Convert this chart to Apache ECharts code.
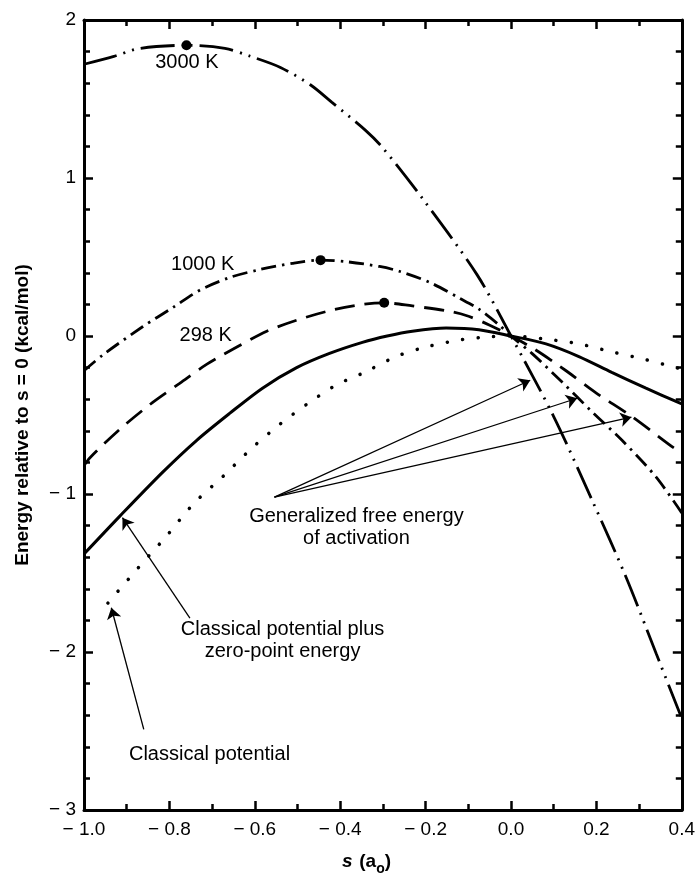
<!DOCTYPE html>
<html>
<head>
<meta charset="utf-8">
<script src="https://cdn.jsdelivr.net/npm/echarts@6/dist/echarts.min.js"></script>
<style>
html,body{margin:0;padding:0;background:#fff;}
#chart{width:698px;height:879px;}
</style>
</head>
<body>
<div id="chart"></div>
<script>
// ---- axis ticks ----
const xTickLabels = ['\u2212 1.0','\u2212 0.8','\u2212 0.6','\u2212 0.4','\u2212 0.2','0.0','0.2','0.4'];
const yTickLabels = ['\u2212 3','\u2212 2','\u2212 1','0','1','2'];

// ---- curves (s in a0, energy in kcal/mol) ----
const s3000 = [-1.0,-0.93,-0.87,-0.76,-0.67,-0.61,-0.54,-0.47,-0.42,-0.34,-0.30,-0.21,-0.08,0.0,0.10,0.19,0.27,0.34,0.40];
const e3000 = [1.72,1.77,1.82,1.84,1.82,1.77,1.70,1.59,1.48,1.30,1.19,0.88,0.39,0.0,-0.51,-1.04,-1.53,-2.01,-2.42];

const s1000 = [-1.0,-0.956,-0.862,-0.792,-0.729,-0.659,-0.589,-0.512,-0.446,-0.385,-0.308,-0.262,-0.191,-0.121,-0.075,-0.028,0.0,0.049,0.119,0.190,0.260,0.339,0.40];
const e1000 = [-0.22,-0.12,0.06,0.18,0.29,0.37,0.42,0.46,0.48,0.47,0.44,0.41,0.34,0.24,0.17,0.07,0.0,-0.11,-0.29,-0.48,-0.66,-0.89,-1.12];

const s298 = [-1.0,-0.986,-0.916,-0.839,-0.776,-0.713,-0.642,-0.572,-0.502,-0.425,-0.348,-0.297,-0.231,-0.152,-0.105,-0.051,0.0,0.059,0.129,0.199,0.283,0.377,0.40];
const e298 = [-0.82,-0.77,-0.59,-0.42,-0.30,-0.18,-0.07,0.03,0.10,0.16,0.20,0.21,0.19,0.16,0.13,0.07,0.0,-0.09,-0.22,-0.36,-0.51,-0.70,-0.74];

const sZpe = [-1.0,-0.916,-0.815,-0.736,-0.659,-0.582,-0.502,-0.425,-0.348,-0.290,-0.231,-0.152,-0.075,0.0,0.082,0.159,0.236,0.316,0.40];
const eZpe = [-1.38,-1.14,-0.86,-0.66,-0.49,-0.33,-0.20,-0.11,-0.04,0.0,0.03,0.05,0.04,0.0,-0.05,-0.13,-0.23,-0.33,-0.43];

const sClassical = [-0.944,-0.874,-0.808,-0.743,-0.675,-0.607,-0.542,-0.477,-0.409,-0.343,-0.269,-0.200,-0.120,-0.050,0.0,0.082,0.159,0.236,0.316,0.40];
const eClassical = [-1.69,-1.47,-1.27,-1.06,-0.89,-0.71,-0.56,-0.43,-0.31,-0.23,-0.13,-0.07,-0.025,-0.005,0.0,-0.02,-0.05,-0.10,-0.15,-0.21];

// ---- maxima of the free-energy curves ----
const peakS = [-0.76,-0.446,-0.297];
const peakE = [1.84,0.48,0.21];

// ---- annotation texts ----
const noteText = ['3000 K','1000 K','298 K','Generalized free energy\nof activation','Classical potential plus\nzero-point energy','Classical potential'];
const noteS = [-0.759,-0.722,-0.715,-0.362,-0.535,-0.706];
const noteE = [1.734,0.45,0.006,-1.21,-1.93,-2.65];

// ---- arrows: tail -> head ----
const arrowTail = [[-0.554,-1.02],[-0.554,-1.02],[-0.554,-1.02],[-0.752,-1.785],[-0.860,-2.49]];
const arrowHead = [[0.045,-0.280],[0.155,-0.394],[0.282,-0.514],[-0.910,-1.150],[-0.936,-1.720]];

const zip = (a,b) => a.map((v,i)=>[v,b[i]]);
const FONT = '"Liberation Sans", Arial, Helvetica, sans-serif';

function curve(name, s, e, type, width, cap){
  return {
    name, type:'line', data: zip(s,e), showSymbol:false, symbol:'none', smooth:0.3,
    xAxisIndex:0, yAxisIndex:0, clip:true, silent:true,
    lineStyle:{color:'#000', width:width, type:type, cap:cap||'butt'}
  };
}

const tickStyle = {color:'#000', width:2.5};
function xAx(pos, showLabel){
  return {
    type:'value', position:pos, min:-1, max:0.4, interval:0.2,
    axisLine:{show:true, onZero:false, lineStyle:{color:'#000', width:3}},
    axisTick:{show:true, inside:true, length:9, lineStyle:tickStyle},
    minorTick:{show:true, splitNumber:2, length:6, lineStyle:tickStyle},
    splitLine:{show:false}, minorSplitLine:{show:false},
    axisLabel:{show:showLabel, margin:10, color:'#000', fontSize:19, fontFamily:FONT,
      formatter:(v)=>xTickLabels[Math.round((v+1)/0.2)]}
  };
}
function yAx(pos, showLabel){
  return {
    type:'value', position:pos, min:-3, max:2, interval:1,
    axisLine:{show:true, onZero:false, lineStyle:{color:'#000', width:3}},
    axisTick:{show:true, inside:true, length:9, lineStyle:tickStyle},
    minorTick:{show:true, splitNumber:5, length:6, lineStyle:tickStyle},
    splitLine:{show:false}, minorSplitLine:{show:false},
    axisLabel:{show:showLabel, margin:8, color:'#000', fontSize:19, fontFamily:FONT,
      formatter:(v)=>yTickLabels[Math.round(v+3)]},
    name: showLabel ? 'Energy relative to s = 0 (kcal/mol)' : '',
    nameLocation:'middle', nameGap:52,
    nameTextStyle:{color:'#000', fontSize:19, fontWeight:'bold', fontFamily:FONT}
  };
}

const option = {
  animation:false,
  backgroundColor:'#fff',
  grid:{left:84, right:15, top:20, bottom:69, containLabel:false},
  xAxis:[xAx('bottom', true), xAx('top', false)],
  yAxis:[yAx('left', true), yAx('right', false)],
  graphic:[{
    type:'text', left:342, top:852,
    style:{
      text:'{i|s}  {b|(a}{sub|o}{b|)}',
      rich:{
        i:{fontSize:19, fontWeight:'bold', fontStyle:'italic', fontFamily:FONT, fill:'#000'},
        b:{fontSize:19, fontWeight:'bold', fontFamily:FONT, fill:'#000'},
        sub:{fontSize:14, fontWeight:'bold', fontFamily:FONT, fill:'#000', padding:[16,0,0,0]}
      }
    }
  }],
  series:[
    curve('3000 K', s3000, e3000, [34,7,2,7,2,7], 2.8),
    curve('1000 K', s1000, e1000, [15,6,2.5,6], 2.8),
    curve('298 K', s298, e298, [20,10], 2.8),
    curve('Classical potential plus zero-point energy', sZpe, eZpe, 'solid', 3),
    curve('Classical potential', sClassical, eClassical, [0.1,15.5], 3.5, 'round'),
    {
      name:'peaks', type:'scatter', data: zip(peakS, peakE), symbol:'circle', symbolSize:10,
      itemStyle:{color:'#000', opacity:1}, silent:true, z:5
    },
    {
      name:'notes', type:'scatter', silent:true, symbolSize:0,
      itemStyle:{color:'#000', opacity:1},
      data: noteText.map((t,i)=>({value:[noteS[i], noteE[i]], label:{formatter:t}})),
      label:{show:true, position:'inside', color:'#000', opacity:1, textBorderWidth:0,
        fontSize:20, fontFamily:FONT, lineHeight:22, align:'center'}
    },
    {
      name:'arrows', type:'lines', coordinateSystem:'cartesian2d', xAxisIndex:0, yAxisIndex:0,
      silent:true, polyline:false,
      symbol:['none','arrow'], symbolSize:[1,11],
      lineStyle:{color:'#000', width:1.3, opacity:1, curveness:0},
      itemStyle:{color:'#000'},
      data: arrowTail.map((t,i)=>({coords:[t, arrowHead[i]]})),
      z:4
    }
  ]
};

const chart = echarts.init(document.getElementById('chart'), null, {renderer:'canvas'});
chart.setOption(option);
</script>
</body>
</html>
